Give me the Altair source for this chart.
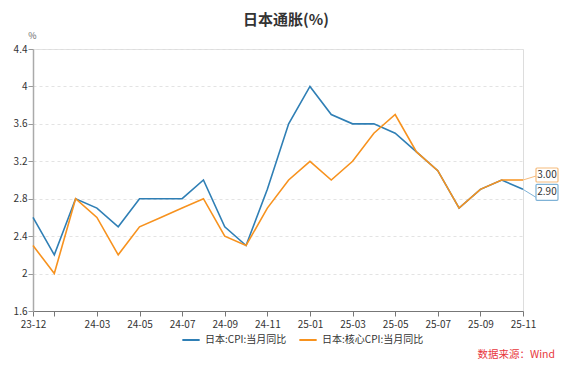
import altair as alt
import pandas as pd

months = ["23-12", "24-01", "24-02", "24-03", "24-04", "24-05", "24-06", "24-07",
          "24-08", "24-09", "24-10", "24-11", "24-12", "25-01", "25-02", "25-03",
          "25-04", "25-05", "25-06", "25-07", "25-08", "25-09", "25-10", "25-11"]
cpi = [2.6, 2.2, 2.8, 2.7, 2.5, 2.8, 2.8, 2.8, 3.0, 2.5, 2.3, 2.9, 3.6, 4.0,
       3.7, 3.6, 3.6, 3.5, 3.3, 3.1, 2.7, 2.9, 3.0, 2.9]
core = [2.3, 2.0, 2.8, 2.6, 2.2, 2.5, 2.6, 2.7, 2.8, 2.4, 2.3, 2.7, 3.0, 3.2,
        3.0, 3.2, 3.5, 3.7, 3.3, 3.1, 2.7, 2.9, 3.0, 3.0]
series_names = ["日本:CPI:当月同比", "日本:核心CPI:当月同比"]
colors = ["#2f7fb5", "#f7921e"]
box_colors = ["#7fb2d6", "#f6bb7c"]
x_tick_values = ["23-12", "24-01", "24-03", "24-05", "24-07", "24-09", "24-11",
                 "25-01", "25-03", "25-05", "25-07", "25-09", "25-11"]
y_ticks = [1.6, 2.0, 2.4, 2.8, 3.2, 3.6, 4.0, 4.4]
title_text = "日本通胀(%)"
source_text = "数据来源：Wind"

rows = []
for m, a, b in zip(months, cpi, core):
    rows.append({"month": m, "value": a, "series": series_names[0]})
    rows.append({"month": m, "value": b, "series": series_names[1]})
df = pd.DataFrame(rows)

last = pd.DataFrame([
    {"month": months[-1], "value": cpi[-1], "series": series_names[0], "label": f"{cpi[-1]:.2f}"},
    {"month": months[-1], "value": core[-1], "series": series_names[1], "label": f"{core[-1]:.2f}"},
])

FONT = "Noto Sans CJK SC"

x_enc = alt.X("month:O", sort=months,
              scale=alt.Scale(type="point", padding=0, domain=months),
              axis=alt.Axis(values=x_tick_values, labelAngle=0, title=None,
                            labelExpr="datum.value == '24-01' ? '' : datum.value",
                            domainColor="#777", tickColor="#777", tickSize=5,
                            labelColor="#333", labelFontSize=10, labelFont=FONT,
                            labelPadding=3, grid=False))
y_enc = alt.Y("value:Q",
              scale=alt.Scale(domain=[1.6, 4.4], nice=False, zero=False),
              axis=alt.Axis(values=y_ticks, tickCount=len(y_ticks) + 2,
                            labelOverlap=False, format=".1~f", title="%",
                            titleAngle=0, titleX=-1, titleY=-9, titleAlign="center",
                            titleFontSize=9, titleFontWeight="normal", titleColor="#666",
                            titleFont=FONT,
                            domainColor="#aaa", domainWidth=1.5, tickColor="#999",
                            tickSize=5, labelColor="#333", labelFontSize=10,
                            labelFont=FONT, labelPadding=1,
                            grid=True, gridColor="#e3e3e3", gridDash=[3, 3]))

color_enc = alt.Color("series:N",
                      scale=alt.Scale(domain=series_names, range=colors),
                      legend=alt.Legend(orient="none", legendX=148, legendY=281,
                                        direction="horizontal", title=None,
                                        symbolType="stroke", symbolStrokeWidth=2,
                                        symbolSize=300, labelFontSize=10,
                                        labelColor="#333", labelFont=FONT,
                                        columnPadding=8, labelOffset=4))

lines = alt.Chart(df).mark_line(strokeWidth=1.6).encode(
    x=x_enc, y=y_enc, color=color_enc,
    order=alt.Order("series:N"),
)

layers = [lines]
offsets = [
    # (rule y2 offset, box y top, box y bottom, text dy)
    (8, -5, 11, 3),
    (-4, -12, 2, -5),
]
for i, name in enumerate(series_names):
    r_off, b_top, b_bot, t_dy = offsets[i]
    base = alt.Chart(last).transform_filter(alt.datum.series == name)
    rule = base.mark_rule(color=box_colors[i], strokeWidth=1, x2Offset=13,
                          y2Offset=r_off).encode(
        x=alt.X("month:O", sort=months), x2="month:O",
        y="value:Q", y2="value:Q")
    box = base.mark_rect(fill="white", stroke=box_colors[i], strokeWidth=1.2,
                         xOffset=13, x2Offset=35, yOffset=b_top,
                         y2Offset=b_bot, cornerRadius=1).encode(
        x=alt.X("month:O", sort=months), x2="month:O",
        y="value:Q", y2="value:Q")
    txt = base.mark_text(dx=24, dy=t_dy, fontSize=10, color="#333",
                         font=FONT).encode(
        x=alt.X("month:O", sort=months), y="value:Q", text="label:N")
    layers += [rule, box, txt]

source = alt.Chart(pd.DataFrame({"t": [source_text]})).mark_text(
    align="right", baseline="middle", fontSize=10.5, color="#e8383d", font=FONT
).encode(x=alt.value(522), y=alt.value(306), text="t:N")
layers.append(source)

chart = alt.layer(*layers).resolve_scale(color="shared").properties(
    width=490, height=262,
    title=alt.TitleParams(title_text, fontSize=15, fontWeight="bold",
                          color="#333", font=FONT, anchor="middle", dx=8,
                          offset=8, dy=5),
    autosize=alt.AutoSizeParams(type="none"),
    padding={"left": 25, "top": 41, "right": 42, "bottom": 51},
).configure_view(stroke=None).configure(background="white")

chart.save("out.html", embed_options={"renderer": "svg", "actions": False})
